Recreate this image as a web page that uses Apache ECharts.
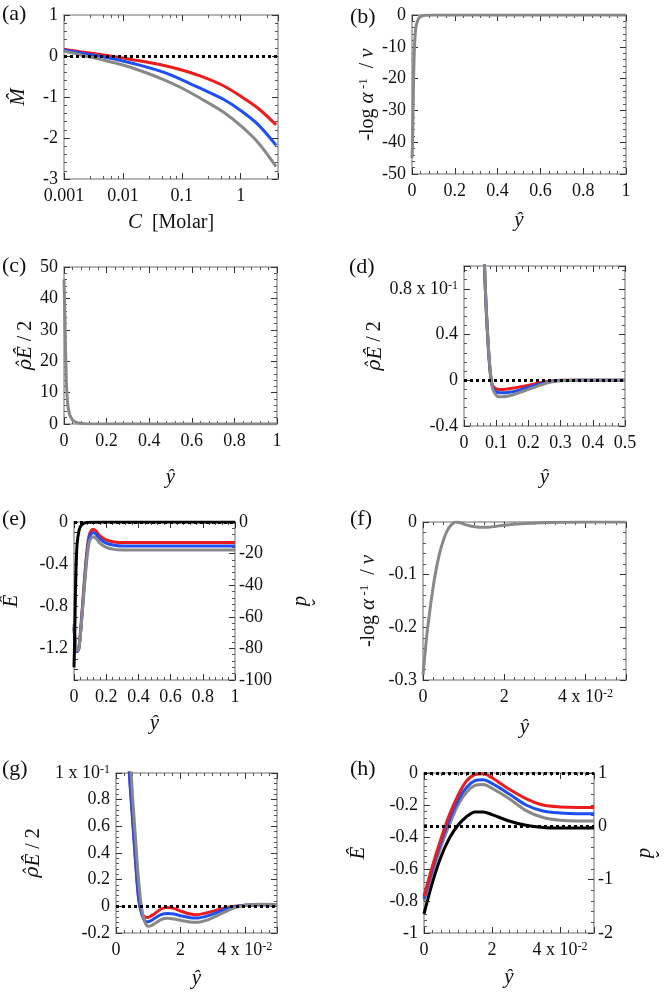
<!DOCTYPE html>
<html><head><meta charset="utf-8">
<script src="https://cdn.jsdelivr.net/npm/echarts@6/dist/echarts.min.js"></script>
<style>html,body{margin:0;padding:0;background:#fff}#c{width:665px;height:995px}</style>
</head><body><div id="c"></div>
<script>
// ---------- Panel (a) ----------
const aC = [0.001, 0.002, 0.005, 0.01, 0.02, 0.05, 0.1, 0.2, 0.5, 1, 2, 4];
const aRed  = [0.16, 0.10, 0.02, -0.05, -0.12, -0.23, -0.34, -0.48, -0.72, -0.98, -1.28, -1.68];
const aBlue = [0.15, 0.07, -0.03, -0.12, -0.23, -0.40, -0.58, -0.78, -1.05, -1.33, -1.68, -2.18];
const aGray = [0.12, 0.02, -0.11, -0.22, -0.36, -0.58, -0.78, -1.02, -1.36, -1.70, -2.12, -2.70];
const aXTicks = [0.001, 0.01, 0.1, 1];
const aXLabels = ['0.001', '0.01', '0.1', '1'];
const aYTicks = [-3, -2, -1, 0, 1];
const aYLabels = ['-3', '-2', '-1', '0', '1'];

// ---------- Panel (b) ----------
const bX = [0, 0.002, 0.005, 0.008, 0.011, 0.015, 0.02, 0.03, 0.04, 0.06, 0.1, 1];
const bGray = [-45, -42, -30, -18, -11, -6, -3.2, -1.2, -0.5, -0.1, 0, 0];
const bXTicks = [0, 0.2, 0.4, 0.6, 0.8, 1];
const bXLabels = ['0', '0.2', '0.4', '0.6', '0.8', '1'];
const bYTicks = [-50, -40, -30, -20, -10, 0];
const bYLabels = ['-50', '-40', '-30', '-20', '-10', '0'];

// ---------- Panel (c) ----------
const cX = [0, 0.003, 0.006, 0.009, 0.012, 0.016, 0.02, 0.025, 0.03, 0.04, 0.05, 0.07, 0.1, 1];
const cGray = [46, 38, 28, 19, 12, 7.5, 5, 3.4, 2.4, 1.3, 0.8, 0.3, 0.1, 0];
const cXTicks = bXTicks, cXLabels = bXLabels;
const cYTicks = [0, 10, 20, 30, 40, 50];
const cYLabels = ['0', '10', '20', '30', '40', '50'];

// ---------- Panel (d) ----------
const dX = [0.055, 0.06, 0.065, 0.07, 0.075, 0.08, 0.085, 0.09, 0.1, 0.11, 0.12, 0.14, 0.16, 0.18, 0.2, 0.22, 0.24, 0.26, 0.28, 0.3, 0.35, 0.5];
const dRed  = [2.0, 1.33, 0.88, 0.56, 0.31, 0.11, -0.01, -0.05, -0.075, -0.08, -0.08, -0.075, -0.065, -0.055, -0.045, -0.032, -0.02, -0.01, -0.004, 0, 0, 0];
const dBlue = [2.0, 1.34, 0.89, 0.57, 0.32, 0.12, -0.01, -0.065, -0.10, -0.11, -0.11, -0.105, -0.095, -0.08, -0.063, -0.045, -0.03, -0.015, -0.006, -0.002, 0, 0];
const dGray = [2.0, 1.35, 0.90, 0.58, 0.33, 0.13, -0.01, -0.08, -0.13, -0.145, -0.145, -0.135, -0.12, -0.10, -0.08, -0.06, -0.04, -0.022, -0.01, -0.004, 0, 0];
const dXTicks = [0, 0.1, 0.2, 0.3, 0.4, 0.5];
const dXLabels = ['0', '0.1', '0.2', '0.3', '0.4', '0.5'];
const dYTicks = [-0.4, 0, 0.4, 0.8];
const dYLabels = ['-0.4', '0', '0.4', '{n|0.8 x 10}{s|-1}'];

// ---------- Panel (e) ----------
const eX = [0, 0.01, 0.02, 0.03, 0.04, 0.05, 0.06, 0.07, 0.08, 0.09, 0.1, 0.12, 0.14, 0.16, 0.2, 0.25, 0.3, 0.4, 1];
const eRed  = [-1.0, -1.18, -1.23, -1.2, -1.05, -0.85, -0.65, -0.45, -0.28, -0.16, -0.1, -0.07, -0.09, -0.13, -0.17, -0.19, -0.195, -0.195, -0.195];
const eBlue = [-1.0, -1.18, -1.23, -1.2, -1.06, -0.87, -0.67, -0.48, -0.31, -0.19, -0.13, -0.10, -0.12, -0.16, -0.2, -0.22, -0.228, -0.228, -0.228];
const eGray = [-0.97, -1.17, -1.22, -1.2, -1.07, -0.89, -0.7, -0.52, -0.35, -0.23, -0.17, -0.14, -0.16, -0.2, -0.24, -0.26, -0.265, -0.265, -0.265];
const eBlackX = [0, 0.004, 0.008, 0.012, 0.016, 0.02, 0.03, 0.04, 0.06, 0.1, 0.2, 1];
const eBlack = [-92, -75, -50, -32, -20, -13, -6, -2.8, -0.8, -0.1, 0, 0];
const eXTicks = bXTicks, eXLabels = bXLabels;
const eYTicks = [-1.2, -0.8, -0.4, 0];
const eYLabels = ['-1.2', '-0.8', '-0.4', '0'];
const eRTicks = [-100, -80, -60, -40, -20, 0];
const eRLabels = ['-100', '-80', '-60', '-40', '-20', '0'];

// ---------- Panel (f) ----------
const fX = [0, 0.05, 0.1, 0.15, 0.2, 0.3, 0.4, 0.5, 0.6, 0.7, 0.8, 0.9, 1.0, 1.2, 1.4, 1.6, 1.8, 2.0, 2.5, 3.0, 4.0, 5.0];
const fGray = [-0.29, -0.25, -0.21, -0.18, -0.15, -0.10, -0.062, -0.035, -0.016, -0.005, 0, -0.001, -0.004, -0.008, -0.010, -0.010, -0.008, -0.006, -0.003, -0.001, 0, 0];
const fXTicks = [0, 2, 4];
const fXLabels = ['0', '2', '{n|4 x 10}{s|-2}'];
const fYTicks = [-0.3, -0.2, -0.1, 0];
const fYLabels = ['-0.3', '-0.2', '-0.1', '0'];

// ---------- Panel (g) ----------
const gX = [0.3, 0.4, 0.5, 0.6, 0.7, 0.8, 0.9, 1.0, 1.1, 1.2, 1.4, 1.6, 1.8, 2.0, 2.3, 2.5, 2.8, 3.1, 3.4, 3.7, 4.0, 4.5, 5.0];
const gRed  = [1.5, 1.05, 0.7, 0.36, 0.06, -0.05, -0.08, -0.083, -0.07, -0.055, -0.02, -0.008, -0.015, -0.035, -0.058, -0.063, -0.05, -0.03, -0.012, 0.0, 0.008, 0.012, 0.01];
const gBlue = [1.5, 1.06, 0.71, 0.37, 0.07, -0.06, -0.11, -0.116, -0.105, -0.09, -0.062, -0.053, -0.058, -0.07, -0.085, -0.088, -0.075, -0.05, -0.022, -0.003, 0.008, 0.012, 0.01];
const gGray = [1.8, 1.3, 0.88, 0.53, 0.2, -0.02, -0.12, -0.15, -0.145, -0.13, -0.1, -0.09, -0.095, -0.105, -0.118, -0.12, -0.105, -0.075, -0.04, -0.01, 0.008, 0.015, 0.012];
const gXTicks = fXTicks, gXLabels = fXLabels;
const gYTicks = [-0.2, 0, 0.2, 0.4, 0.6, 0.8, 1];
const gYLabels = ['-0.2', '0', '0.2', '0.4', '0.6', '0.8', '{n|1 x 10}{s|-1}'];

// ---------- Panel (h) ----------
const hX = [0, 0.25, 0.5, 0.75, 1.0, 1.25, 1.5, 1.75, 2.0, 2.5, 3.0, 3.5, 4.0, 4.5, 5.0];
const hRed  = [-0.77, -0.58, -0.41, -0.26, -0.14, -0.05, -0.01, -0.005, -0.03, -0.1, -0.16, -0.2, -0.212, -0.215, -0.215];
const hBlue = [-0.785, -0.6, -0.43, -0.29, -0.17, -0.09, -0.048, -0.042, -0.065, -0.13, -0.2, -0.237, -0.25, -0.255, -0.255];
const hGray = [-0.8, -0.62, -0.46, -0.32, -0.2, -0.12, -0.078, -0.072, -0.095, -0.16, -0.235, -0.278, -0.295, -0.3, -0.3];
const hBlack = [-1.64, -1.05, -0.57, -0.22, 0.02, 0.18, 0.27, 0.27, 0.22, 0.1, 0.02, -0.02, -0.03, -0.03, -0.03];
const hXTicks = fXTicks, hXLabels = fXLabels;
const hYTicks = [-1, -0.8, -0.6, -0.4, -0.2, 0];
const hYLabels = ['-1', '-0.8', '-0.6', '-0.4', '-0.2', '0'];
const hRTicks = [-2, -1, 0, 1];
const hRLabels = ['-2', '-1', '0', '1'];

const panelLetters = ['(a)', '(b)', '(c)', '(d)', '(e)', '(f)', '(g)', '(h)'];

// ---------- build ----------
const FONT = '"Liberation Serif", "DejaVu Serif", serif';
const RED = '#ec1c1c', BLUE = '#1e4ff5', GRAY = '#888888', BLACK = '#000000';
const rich = {
  n: {fontFamily: FONT, fontSize: 18, color: '#111'},
  s: {fontFamily: FONT, fontSize: 12, color: '#111', verticalAlign: 'top', lineHeight: 12},
  i: {fontFamily: FONT, fontSize: 21, fontStyle: 'italic', color: '#111'},
  g: {fontFamily: '"DejaVu Serif", serif', fontSize: 19, fontStyle: 'italic', color: '#111'},
  u: {fontFamily: FONT, fontSize: 20, color: '#111'},
  us: {fontFamily: FONT, fontSize: 13, color: '#111', verticalAlign: 'top', lineHeight: 12}
};
const pairs = (xs, ys) => xs.map((x, i) => [x, ys[i]]);
const fmt = (ticks, labels) => v => {
  for (let i = 0; i < ticks.length; i++) {
    if (Math.abs(ticks[i] - v) <= 1e-7 * Math.max(1e-3, Math.abs(ticks[i]))) return labels[i];
  }
  return '';
};

const option = {animation: false, backgroundColor: '#fff', grid: [], xAxis: [], yAxis: [], series: [], graphic: []};

function addGrid(box) { option.grid.push(box); return option.grid.length - 1; }
function addAxis(list, g, pos, c, show) {
  const ax = {
    gridIndex: g, position: pos, type: c.type || 'value', min: c.min, max: c.max,
    name: show && c.name ? c.name : '', nameLocation: 'middle', nameGap: c.gap || 0,
    nameTextStyle: {fontFamily: FONT, fontSize: 20, color: '#111', rich: rich},
    axisLine: {show: true, onZero: false, lineStyle: {color: '#b5b5b5', width: 2}},
    axisTick: {show: true, inside: true, length: c.tickLen || 6, lineStyle: {color: '#333', width: 1}},
    minorTick: {show: c.minor !== 0, splitNumber: c.minor || 5, length: 3, lineStyle: {color: '#555', width: 1}},
    splitLine: {show: false}, minorSplitLine: {show: false},
    axisLabel: {show: !!show, margin: c.margin || 6, color: '#111', fontFamily: FONT, fontSize: 18,
      formatter: fmt(c.ticks, c.labels), rich: rich, showMinLabel: true, showMaxLabel: true}
  };
  if (c.interval != null) ax.interval = c.interval;
  if (c.type === 'log') ax.logBase = 10;
  if (c.rotate != null) ax.nameRotate = c.rotate;
  list.push(ax);
  return list.length - 1;
}
function panel(box, xc, yc, rc) {
  const g = addGrid(box);
  const xb = addAxis(option.xAxis, g, 'bottom', Object.assign({margin: 8}, xc), true);
  addAxis(option.xAxis, g, 'top', xc, false);
  const yl = addAxis(option.yAxis, g, 'left', yc, true);
  const yr = rc ? addAxis(option.yAxis, g, 'right', rc, true) : addAxis(option.yAxis, g, 'right', yc, false);
  return {x: xb, yl: yl, yr: yr};
}
function line(x, y, data, color, zeroLine) {
  const s = {type: 'line', xAxisIndex: x, yAxisIndex: y, data: data, symbol: 'none', showSymbol: false,
    smooth: 0.3, clip: true, silent: true, animation: false, lineStyle: {color: color, width: 3}};
  if (zeroLine) s.markLine = {silent: true, symbol: ['none', 'none'], label: {show: false}, animation: false,
    lineStyle: {color: '#000', width: 3, type: [3, 3]}, data: [{yAxis: 0}]};
  option.series.push(s);
}

const yHat = '{i|ŷ}';
const logName = '{u|-log }{i|α}{us| -1}{u|  / }{i|ν}';
const rhoName = '{g|ρ̂}{i|Ê}{u| / 2}';

// (a)
let p = panel({left: 64, top: 15, width: 214, height: 164},
  {type: 'log', min: 0.001, max: 4.3, ticks: aXTicks, labels: aXLabels, name: '{i|C}{u|  [Molar]}', gap: 33},
  {min: -3, max: 1, interval: 1, ticks: aYTicks, labels: aYLabels, name: '{i|M̂}', gap: 35});
line(p.x, p.yl, pairs(aC, aRed), RED);
line(p.x, p.yl, pairs(aC, aBlue), BLUE);
line(p.x, p.yl, pairs(aC, aGray), GRAY, true);

// (b)
p = panel({left: 412, top: 15, width: 214, height: 159},
  {min: 0, max: 1, interval: 0.2, ticks: bXTicks, labels: bXLabels, name: yHat, gap: 36},
  {min: -50, max: 0, interval: 10, ticks: bYTicks, labels: bYLabels, name: logName, gap: 32});
line(p.x, p.yl, pairs(bX, bGray), GRAY);

// (c)
p = panel({left: 64, top: 267, width: 213, height: 157},
  {min: 0, max: 1, interval: 0.2, ticks: cXTicks, labels: cXLabels, name: yHat, gap: 43},
  {min: 0, max: 50, interval: 10, ticks: cYTicks, labels: cYLabels, name: rhoName, gap: 18});
line(p.x, p.yl, pairs(cX, cGray), GRAY);

// (d)
p = panel({left: 464, top: 266, width: 161, height: 160},
  {min: 0, max: 0.5, interval: 0.1, ticks: dXTicks, labels: dXLabels, name: yHat, gap: 41},
  {min: -0.4, max: 1.0, interval: 0.4, ticks: dYTicks, labels: dYLabels, name: rhoName, gap: 76});
line(p.x, p.yl, pairs(dX, dRed), RED);
line(p.x, p.yl, pairs(dX, dBlue), BLUE);
line(p.x, p.yl, pairs(dX, dGray), GRAY, true);

// (e)
p = panel({left: 74, top: 522, width: 161, height: 158},
  {min: 0, max: 1, interval: 0.2, ticks: eXTicks, labels: eXLabels, name: yHat, gap: 33},
  {min: -1.5, max: 0, interval: 0.1, tickLen: 4, minor: 0, ticks: eYTicks, labels: eYLabels, name: '{i|Ê}', gap: 52},
  {min: -100, max: 0, interval: 20, margin: 4, ticks: eRTicks, labels: eRLabels, name: '{i|d̂}', gap: 56, rotate: -90});
line(p.x, p.yl, pairs(eX, eRed), RED, true);
line(p.x, p.yl, pairs(eX, eBlue), BLUE);
line(p.x, p.yl, pairs(eX, eGray), GRAY);
line(p.x, p.yr, pairs(eBlackX, eBlack), BLACK);

// (f)
p = panel({left: 423, top: 522, width: 203, height: 158},
  {min: 0, max: 5, interval: 2, minor: 8, ticks: fXTicks, labels: fXLabels, name: yHat, gap: 37},
  {min: -0.3, max: 0, interval: 0.1, ticks: fYTicks, labels: fYLabels, name: logName, gap: 44});
line(p.x, p.yl, pairs(fX, fGray), GRAY);

// (g)
p = panel({left: 116, top: 773, width: 161, height: 160},
  {min: 0, max: 5, interval: 2, minor: 8, ticks: gXTicks, labels: gXLabels, name: yHat, gap: 35},
  {min: -0.2, max: 1, interval: 0.2, ticks: gYTicks, labels: gYLabels, name: rhoName, gap: 72});
line(p.x, p.yl, pairs(gX, gRed), RED);
line(p.x, p.yl, pairs(gX, gBlue), BLUE);
line(p.x, p.yl, pairs(gX, gGray), GRAY, true);

// (h)
p = panel({left: 424, top: 773, width: 170, height: 160},
  {min: 0, max: 5, interval: 2, minor: 8, ticks: hXTicks, labels: hXLabels, name: yHat, gap: 34},
  {min: -1, max: 0, interval: 0.2, ticks: hYTicks, labels: hYLabels, name: '{i|Ê}', gap: 55},
  {min: -2, max: 1, interval: 1, margin: 4, ticks: hRTicks, labels: hRLabels, name: '{i|d̂}', gap: 41, rotate: -90});
line(p.x, p.yl, pairs(hX, hGray), GRAY);
line(p.x, p.yl, pairs(hX, hBlue), BLUE);
line(p.x, p.yl, pairs(hX, hRed), RED, true);
line(p.x, p.yr, pairs(hX, hBlack), BLACK, true);

// panel letters
const letterPos = [[2, 3], [350, 6], [2, 255], [349, 256], [2, 508], [350, 508], [2, 758], [350, 758]];
panelLetters.forEach((t, i) => option.graphic.push({type: 'text', left: letterPos[i][0], top: letterPos[i][1],
  style: {text: t, font: '22px ' + FONT, fill: '#111'}}));

const chart = echarts.init(document.getElementById('c'), null, {renderer: 'canvas'});
chart.setOption(option);
</script>
</body></html>
